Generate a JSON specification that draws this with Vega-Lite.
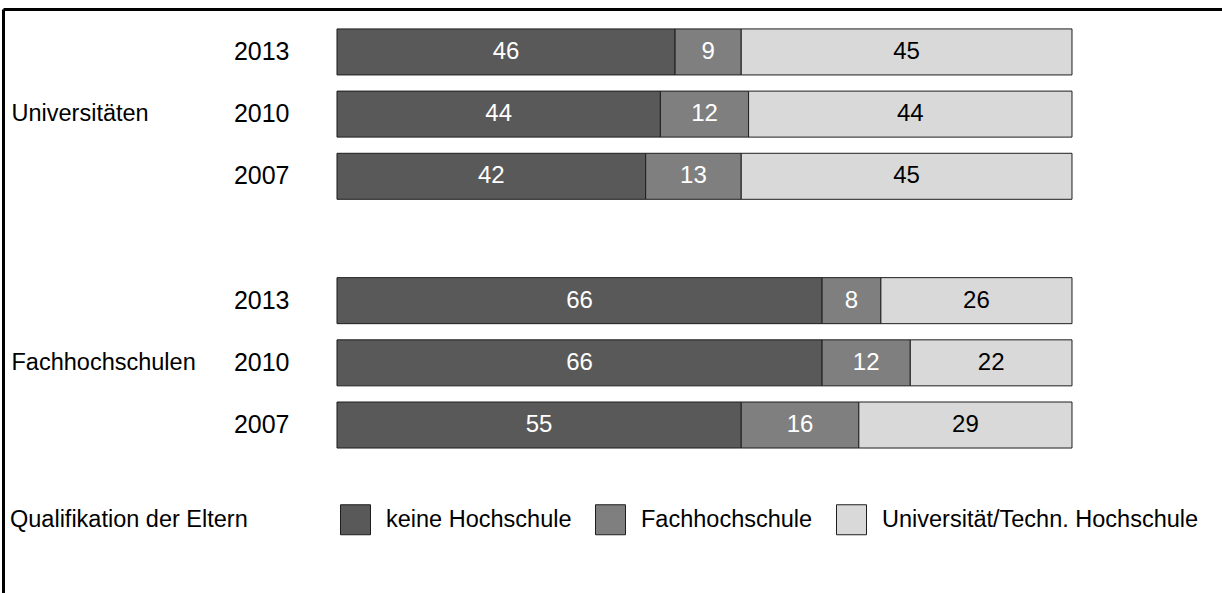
{
  "$schema": "https://vega.github.io/schema/vega-lite/v6.json",
  "width": 1219,
  "height": 584,
  "autosize": {"type": "none"},
  "padding": {"left": 3, "top": 9, "right": 0, "bottom": 0},
  "background": "white",
  "config": {"font": "Liberation Sans", "view": {"stroke": null}},
  "data": {
    "values": [
      {"zeile": "Universitäten 2013", "quali": "keine Hochschule", "ord": 1, "wert": 46},
      {"zeile": "Universitäten 2013", "quali": "Fachhochschule", "ord": 2, "wert": 9},
      {"zeile": "Universitäten 2013", "quali": "Universität/Techn. Hochschule", "ord": 3, "wert": 45},
      {"zeile": "Universitäten 2010", "quali": "keine Hochschule", "ord": 1, "wert": 44},
      {"zeile": "Universitäten 2010", "quali": "Fachhochschule", "ord": 2, "wert": 12},
      {"zeile": "Universitäten 2010", "quali": "Universität/Techn. Hochschule", "ord": 3, "wert": 44},
      {"zeile": "Universitäten 2007", "quali": "keine Hochschule", "ord": 1, "wert": 42},
      {"zeile": "Universitäten 2007", "quali": "Fachhochschule", "ord": 2, "wert": 13},
      {"zeile": "Universitäten 2007", "quali": "Universität/Techn. Hochschule", "ord": 3, "wert": 45},
      {"zeile": "Fachhochschulen 2013", "quali": "keine Hochschule", "ord": 1, "wert": 66},
      {"zeile": "Fachhochschulen 2013", "quali": "Fachhochschule", "ord": 2, "wert": 8},
      {"zeile": "Fachhochschulen 2013", "quali": "Universität/Techn. Hochschule", "ord": 3, "wert": 26},
      {"zeile": "Fachhochschulen 2010", "quali": "keine Hochschule", "ord": 1, "wert": 66},
      {"zeile": "Fachhochschulen 2010", "quali": "Fachhochschule", "ord": 2, "wert": 12},
      {"zeile": "Fachhochschulen 2010", "quali": "Universität/Techn. Hochschule", "ord": 3, "wert": 22},
      {"zeile": "Fachhochschulen 2007", "quali": "keine Hochschule", "ord": 1, "wert": 55},
      {"zeile": "Fachhochschulen 2007", "quali": "Fachhochschule", "ord": 2, "wert": 16},
      {"zeile": "Fachhochschulen 2007", "quali": "Universität/Techn. Hochschule", "ord": 3, "wert": 29}
    ]
  },
  "transform": [
    {"stack": "wert", "groupby": ["zeile"], "sort": [{"field": "ord", "order": "ascending"}], "as": ["x0", "x1"]},
    {"calculate": "(datum.x0 + datum.x1) / 2", "as": "xm"}
  ],
  "layer": [
    {
      "mark": {"type": "bar", "stroke": "#1e1e1e", "strokeWidth": 1},
      "encoding": {
        "x": {
          "field": "x0", "type": "quantitative",
          "scale": {"domain": [-45.44, 120.41], "nice": false, "zero": false},
          "axis": {"orient": "top", "title": null, "labels": false, "ticks": false, "grid": false, "domain": true, "domainColor": "black", "domainWidth": 3}
        },
        "x2": {"field": "x1"},
        "y": {
          "field": "zeile", "type": "nominal",
          "scale": {
            "domain": ["Universitäten 2013", "Universitäten 2010", "Universitäten 2007", "gap", "Fachhochschulen 2013", "Fachhochschulen 2010", "Fachhochschulen 2007", "gap2"],
            "paddingInner": 0.26, "paddingOuter": 0.826, "align": 0.194
          },
          "axis": {
            "orient": "left", "offset": 0, "title": null, "domain": true, "domainColor": "black", "domainWidth": 3,
            "ticks": false, "tickSize": 0, "grid": false, "labelPadding": -286, "labelFontSize": 25, "labelColor": "black",
            "labelOverlap": false, "labelBound": false, "labelLimit": 0,
            "labelExpr": "indexof(datum.value, ' ') < 0 ? '' : slice(datum.value, -4)"
          }
        },
        "fill": {
          "field": "quali", "type": "nominal",
          "scale": {"domain": ["keine Hochschule", "Fachhochschule", "Universität/Techn. Hochschule"], "range": ["#595959", "#7f7f7f", "#d9d9d9"]},
          "legend": {
            "orient": "none", "legendX": 7, "legendY": 495, "direction": "horizontal",
            "title": "Qualifikation der Eltern", "titleOrient": "left", "titleFontSize": 23.5, "titleFontWeight": "normal",
            "titleColor": "black", "titlePadding": 92, "titleBaseline": "middle", "titleLimit": 0,
            "labelFontSize": 23.5, "labelColor": "black", "labelOffset": 15, "columnPadding": 21, "labelLimit": 0,
            "symbolType": "square", "symbolSize": 900, "symbolStrokeColor": "#1e1e1e", "symbolStrokeWidth": 1, "symbolOpacity": 1,
            "padding": 0
          }
        }
      }
    },
    {
      "mark": {"type": "text", "fontSize": 24, "baseline": "middle", "align": "center"},
      "encoding": {
        "x": {"field": "xm", "type": "quantitative"},
        "y": {
          "field": "zeile", "type": "nominal",
          "scale": {
            "domain": ["Universitäten 2013", "Universitäten 2010", "Universitäten 2007", "gap", "Fachhochschulen 2013", "Fachhochschulen 2010", "Fachhochschulen 2007", "gap2"],
            "paddingInner": 0.26, "paddingOuter": 0.826, "align": 0.194
          },
          "axis": {
            "orient": "left", "offset": 0, "title": null, "domain": false, "ticks": false, "tickSize": 0, "grid": false,
            "labelPadding": -8, "labelAlign": "left", "labelFontSize": 23.5, "labelColor": "black",
            "labelOverlap": false, "labelBound": false, "labelLimit": 0,
            "labelExpr": "indexof(datum.value, '2010') >= 0 ? split(datum.value, ' ')[0] : ''"
          }
        },
        "text": {"field": "wert", "type": "quantitative"},
        "color": {"condition": {"test": "datum.ord == 3", "value": "black"}, "value": "white"}
      }
    }
  ],
  "resolve": {"axis": {"y": "independent"}}
}
